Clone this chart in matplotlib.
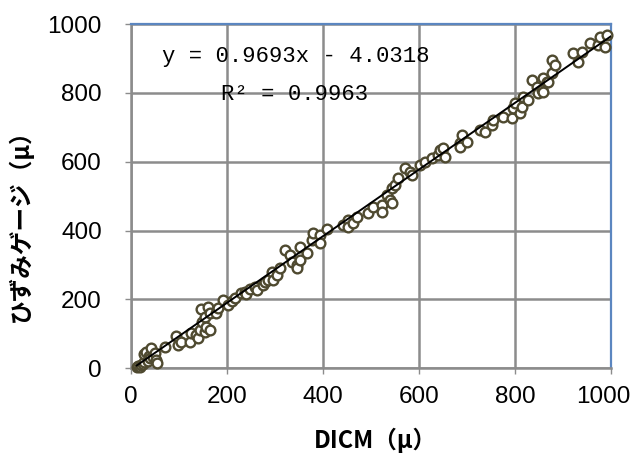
import numpy as np
import matplotlib.pyplot as plt
from matplotlib.transforms import ScaledTranslation

# DICM vs strain gauge readings (micro-strain)
dicm = [12, 15, 18, 21, 25, 27, 28, 31, 35, 37, 40, 42, 46, 50, 52, 55,
        71, 94, 98, 104, 123, 125, 135, 140, 144, 146, 148, 154, 154, 156,
        160, 165, 165, 177, 181, 192, 202, 210, 217, 229, 237, 240, 248,
        258, 262, 275, 279, 285, 294, 296, 304, 310, 321, 331, 335, 346,
        346, 352, 352, 366, 377, 379, 394, 394, 408, 442, 452, 452, 463,
        471, 494, 504, 523, 523, 533, 540, 544, 544, 550, 556, 571, 581,
        585, 602, 613, 627, 640, 644, 650, 654, 685, 685, 690, 700, 727,
        738, 752, 754, 775, 794, 796, 800, 810, 815, 817, 827, 835, 846,
        848, 856, 858, 858, 867, 869, 877, 877, 883, 921, 931, 940, 956,
        973, 977, 988, 992]
gauge = [3, 6, 2, 9, 12, 17, 40, 47, 20, 35, 28, 58, 32, 44, 23, 16,
         61, 93, 67, 76, 76, 102, 96, 87, 110, 171, 134, 148, 105, 119,
         177, 160, 110, 160, 174, 198, 183, 195, 203, 218, 221, 215, 230,
         235, 227, 241, 250, 256, 279, 256, 270, 291, 343, 328, 308, 299,
         291, 352, 314, 334, 372, 392, 387, 363, 404, 416, 430, 410, 421,
         439, 451, 468, 474, 453, 503, 488, 480, 523, 532, 552, 581, 570,
         561, 590, 599, 610, 619, 634, 640, 613, 654, 642, 677, 657, 692,
         686, 706, 721, 730, 727, 756, 770, 741, 759, 788, 779, 837, 817,
         799, 808, 802, 843, 831, 831, 858, 895, 881, 916, 890, 919, 945,
         939, 962, 933, 968]

slope, intercept = 0.9693, -4.0318
r2 = 0.9963

ticks = [0, 200, 400, 600, 800, 1000]
grid_c = '#8c8c8c'

fig = plt.figure(figsize=(6.36, 4.55), dpi=100)
ax = fig.add_axes([0.206, 0.191, 0.755, 0.756])

ax.plot(dicm, gauge, 'o', ms=7, mfc='white', mec='#4f4a30', mew=1.7,
        zorder=3, clip_on=False)
xs = np.linspace(min(dicm), 1000, 50)
ax.plot(xs, slope * xs + intercept, color='black', lw=1.4, zorder=4)

ax.set_xlim(0, 1000)
ax.set_ylim(0, 1000)
ax.set_xticks(ticks)
ax.set_yticks(ticks)
ax.grid(True, color=grid_c, lw=1.8)
ax.set_axisbelow(True)

for s in ['left', 'bottom']:
    ax.spines[s].set_color(grid_c)
    ax.spines[s].set_linewidth(1.8)
for s in ['top', 'right']:
    ax.spines[s].set_color('#5b86c0')
    ax.spines[s].set_linewidth(1.6)

ax.tick_params(direction='out', length=4, width=1, color=grid_c, labelsize=17.5)
ax.tick_params(axis='x', pad=9)
ax.tick_params(axis='y', pad=17)
for lab in ax.get_xticklabels() + ax.get_yticklabels():
    lab.set_family(['Liberation Sans', 'DejaVu Sans'])
# pull the last x label in a little so it stays inside the figure
last = ax.get_xticklabels()[-1]
last.set_transform(last.get_transform() + ScaledTranslation(-6 / 72, 0, fig.dpi_scale_trans))

jp = ['Noto Sans CJK JP', 'DejaVu Sans']
ax.set_xlabel('DICM（μ）', family=jp, fontsize=17, fontweight='bold', va='center')
ax.set_ylabel('ひずみゲージ（μ）', family=jp, fontsize=17, fontweight='bold', va='center')
ax.xaxis.set_label_coords(0.51, -0.209)
ax.yaxis.set_label_coords(-0.231, 0.43)

ax.text(0.065, 0.905, 'y = 0.9693x - 4.0318', transform=ax.transAxes,
        family='Liberation Mono', fontsize=16, va='center', ha='left')
ax.text(0.188, 0.795, 'R² = %.4f' % r2, transform=ax.transAxes,
        family='Liberation Mono', fontsize=16, va='center', ha='left')

fig.savefig('out.png', dpi=100)
